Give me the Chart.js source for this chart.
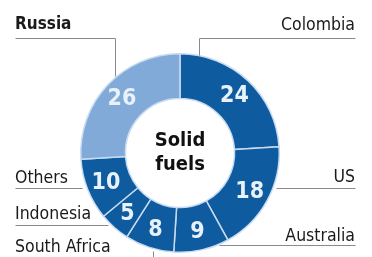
<!DOCTYPE html>
<html>
<head>
<meta charset="utf-8">
<script src="https://cdn.jsdelivr.net/npm/chart.js@4/dist/chart.umd.min.js"></script>
<style>
  html, body { margin: 0; padding: 0; background: #fff; }
  #wrap { position: relative; width: 372px; height: 257px; }
</style>
</head>
<body>
<div id="wrap"><canvas id="chart" width="372" height="257"></canvas></div>
<script>
// clockwise from 12 o'clock
const countries = ["Colombia", "US", "Australia", "South Africa", "Indonesia", "Others", "Russia"];
const shares = [24, 18, 9, 8, 5, 10, 26];
const centerLines = ["Solid", "fuels"];

const DARK = "#0f5b9f";
const LIGHT = "#82aad8";
const sliceColors = countries.map(c => (c === "Russia" ? LIGHT : DARK));

const FONT = "'DejaVu Sans Condensed', 'DejaVu Sans', sans-serif";

// callout text + leader lines (layout only)
const callouts = [
  { text: "Russia", x: 15, y: 25, align: "left", bold: true, line: [[15, 38], [115, 38], [115, 76]] },
  { text: "Colombia", x: 355, y: 25, align: "right", line: [[355, 38], [199, 38], [199, 55]] },
  { text: "US", x: 355, y: 177, align: "right", line: [[276, 188], [355, 188]] },
  { text: "Australia", x: 355, y: 236, align: "right", line: [[219, 245], [355, 245]] },
  { text: "Others", x: 15, y: 178, align: "left", line: [[15, 188], [82, 188]] },
  { text: "Indonesia", x: 15, y: 214, align: "left", line: [[15, 225], [108, 225]] },
  { text: "South Africa", x: 15, y: 247, align: "left", line: [[153, 251], [153, 257]] }
];

const labelPlugin = {
  id: "labels",
  afterDatasetsDraw(chart) {
    const ctx = chart.ctx;
    const meta = chart.getDatasetMeta(0);
    ctx.save();
    // values inside slices, a bit outside the ring's middle
    ctx.fillStyle = "#e9f1fa";
    ctx.font = "bold 23px " + FONT;
    ctx.textAlign = "center";
    ctx.textBaseline = "middle";
    meta.data.forEach((arc, i) => {
      const { x, y, startAngle, endAngle, innerRadius, outerRadius } = arc.getProps(
        ["x", "y", "startAngle", "endAngle", "innerRadius", "outerRadius"], true);
      const mid = (startAngle + endAngle) / 2;
      const r = innerRadius + (outerRadius - innerRadius) * 0.56;
      ctx.fillText(String(shares[i]), x + Math.cos(mid) * r, y + Math.sin(mid) * r + 1);
    });
    // centre text
    const c = meta.data[0];
    ctx.fillStyle = "#111";
    ctx.font = "bold 20px " + FONT;
    ctx.fillText(centerLines[0], c.x, c.y - 12);
    ctx.fillText(centerLines[1], c.x, c.y + 12);

    // callouts
    ctx.strokeStyle = "#8a8a8a";
    ctx.lineWidth = 1;
    callouts.forEach(o => {
      ctx.beginPath();
      o.line.forEach((pt, k) => (k ? ctx.lineTo(pt[0] + 0.5, pt[1] + 0.5) : ctx.moveTo(pt[0] + 0.5, pt[1] + 0.5)));
      ctx.stroke();
      ctx.fillStyle = "#1a1a1a";
      ctx.font = (o.bold ? "bold 17px " : "17.5px ") + FONT;
      ctx.textAlign = o.align;
      ctx.textBaseline = "middle";
      ctx.fillText(o.text, o.x, o.y);
    });
    ctx.restore();
  }
};

new Chart(document.getElementById("chart"), {
  type: "doughnut",
  data: {
    labels: countries,
    datasets: [{
      data: shares,
      backgroundColor: sliceColors,
      borderColor: "#c6dbf1",
      borderWidth: 1.5,
      hoverOffset: 0
    }]
  },
  options: {
    responsive: false,
    animation: false,
    cutout: "55%",
    layout: { padding: { left: 80, right: 92, top: 53, bottom: 4 } },
    plugins: {
      legend: { display: false },
      tooltip: { enabled: false }
    }
  },
  plugins: [labelPlugin]
});
</script>
</body>
</html>
